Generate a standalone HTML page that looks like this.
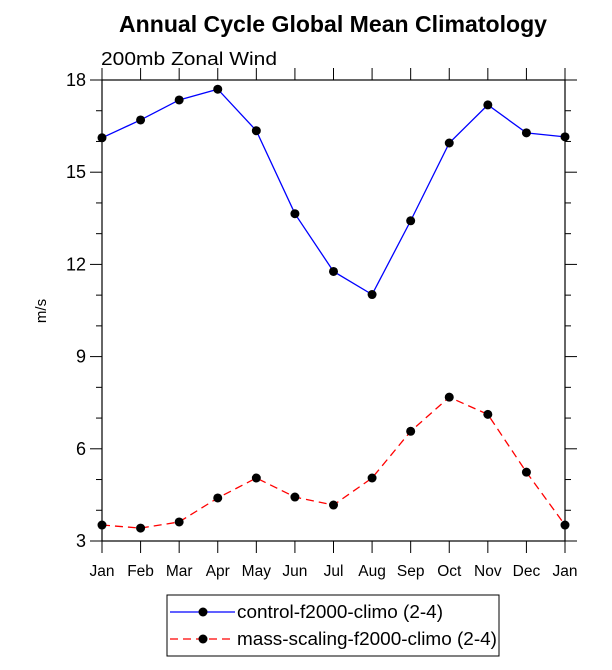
<!DOCTYPE html>
<html><head><meta charset="utf-8"><style>
body{margin:0;background:#fff;}
svg{display:block;font-family:"Liberation Sans",Arial,sans-serif;}
</style></head><body>
<svg id="c" width="612" height="670" viewBox="0 0 612 670">
<text x="119" y="32" font-size="23" font-weight="bold" textLength="428" lengthAdjust="spacingAndGlyphs">Annual Cycle Global Mean Climatology</text>
<text x="101" y="65" font-size="18" textLength="176" lengthAdjust="spacingAndGlyphs">200mb Zonal Wind</text>
<text transform="translate(46,311) rotate(-90)" text-anchor="middle" font-size="15">m/s</text>
<g id="axes"></g>
<g id="series"></g>
<rect x="167" y="595" width="332" height="61" fill="none" stroke="#000" stroke-width="1"/>
<g>
<line x1="170" y1="612" x2="235" y2="612" stroke="#0000ff" stroke-width="1.3"/>
<circle cx="203" cy="612" r="4.5" fill="#000"/>
<text x="237" y="618" font-size="18" textLength="206" lengthAdjust="spacingAndGlyphs">control-f2000-climo (2-4)</text></g>
<g>
<line x1="170" y1="639" x2="235" y2="639" stroke="#ff0000" stroke-width="1.3" stroke-dasharray="8,5"/>
<circle cx="203" cy="639" r="4.5" fill="#000"/>
<text x="237" y="645" font-size="18" textLength="260" lengthAdjust="spacingAndGlyphs">mass-scaling-f2000-climo (2-4)</text></g>
</svg>
<script>
const months=["Jan","Feb","Mar","Apr","May","Jun","Jul","Aug","Sep","Oct","Nov","Dec","Jan"];
const control=[16.12,16.7,17.35,17.7,16.35,13.65,11.77,11.02,13.42,15.95,17.19,16.28,16.15];
const massScaling=[3.52,3.42,3.62,4.4,5.05,4.43,4.17,5.05,6.57,7.68,7.12,5.24,3.52];
const yTicks=[3,6,9,12,15,18];
const L=102,R=565,T=80,B=541,ymin=3,ymax=18;
const NS="http://www.w3.org/2000/svg";
function xs(i){return L+(R-L)*i/(months.length-1);}
function ys(v){return B-(B-T)*(v-ymin)/(ymax-ymin);}
function mk(tag,attrs,parent){const e=document.createElementNS(NS,tag);for(const k in attrs)e.setAttribute(k,attrs[k]);parent.appendChild(e);return e;}
const ax=document.getElementById('axes');
const fr=mk('rect',{x:L,y:T,width:R-L,height:B-T,fill:'none',stroke:'#000','stroke-width':1.2},ax);


for(let v=ymin;v<=ymax;v+=1){
  const y=ys(v);const major=(v%3===0);const len=major?12:6;
  mk('line',{x1:L-len,y1:y,x2:L,y2:y,stroke:'#000','stroke-width':1},ax);
  mk('line',{x1:R,y1:y,x2:R+len,y2:y,stroke:'#000','stroke-width':1},ax);
}
yTicks.forEach(v=>{
  const t=mk('text',{x:L-16,y:ys(v)+6,'text-anchor':'end','font-size':18},ax);
  t.textContent=v;
  
  
});
months.forEach((m,i)=>{
  const x=xs(i);
  mk('line',{x1:x,y1:B,x2:x,y2:B+12,stroke:'#000','stroke-width':1},ax);
  mk('line',{x1:x,y1:T-12,x2:x,y2:T,stroke:'#000','stroke-width':1},ax);
  const t=mk('text',{x:x,y:B+35,'text-anchor':'middle','font-size':15.5},ax);
  t.textContent=m;
  
  
});
const sg=document.getElementById('series');
function drawSeries(vals,color,dash,name){
  const g=mk('g',{},sg);
  
  
  const pts=vals.map((v,i)=>xs(i)+','+ys(v)).join(' ');
  const attrs={points:pts,fill:'none',stroke:color,'stroke-width':1.3};
  if(dash)attrs['stroke-dasharray']=dash;
  mk('polyline',attrs,g);
  vals.forEach((v,i)=>{
    const c=mk('circle',{cx:xs(i),cy:ys(v),r:4.5,fill:'#000'},g);
    
    
  });
}
drawSeries(control,'#0000ff',null,'series-control');
drawSeries(massScaling,'#ff0000','8,5','series-mass-scaling');
</script>
</body></html>
